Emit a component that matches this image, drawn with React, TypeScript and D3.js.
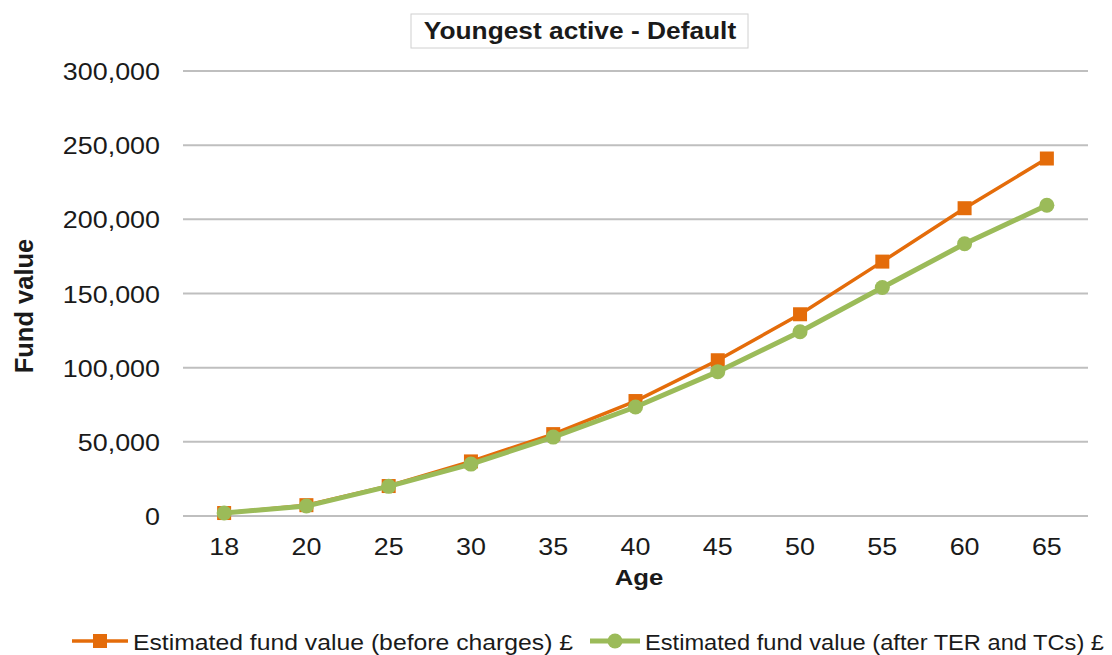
import React from "react";
import * as d3 from "d3";

const ages = ["18", "20", "25", "30", "35", "40", "45", "50", "55", "60", "65"];
const beforeCharges = [2000, 7300, 20200, 36800, 55200, 77500, 105000, 136000, 171500, 207500, 241000];
const afterCharges = [2000, 6700, 20000, 35000, 53200, 73500, 97300, 124200, 154000, 183500, 209500];
const yTicks = [0, 50000, 100000, 150000, 200000, 250000, 300000];
const legendLabels = [
  "Estimated fund value (before charges) £",
  "Estimated fund value (after TER and TCs) £",
];

const W = 1112;
const H = 655;
const left = 183;
const right = 1088;
const top = 71;
const bottom = 516;
const SX = 1.12;

const ORANGE = "#E46C0A";
const GREEN = "#9BBB59";
const FONT = "'Liberation Sans', Arial, sans-serif";

function T(props: {
  x: number;
  y: number;
  size: number;
  anchor?: "start" | "middle" | "end";
  bold?: boolean;
  children: React.ReactNode;
}) {
  return (
    <text
      transform={`translate(${props.x},${props.y}) scale(${SX},1)`}
      textAnchor={props.anchor || "start"}
      fontSize={props.size}
      fontWeight={props.bold ? "bold" : "normal"}
      fill="#1a1a1a"
    >
      {props.children}
    </text>
  );
}

export default function App() {
  const x = d3.scaleBand<string>().domain(ages).range([left, right]);
  const y = d3.scaleLinear().domain([0, 300000]).range([bottom, top]);
  const cx = (a: string) => (x(a) as number) + x.bandwidth() / 2;
  const fmt = d3.format(",");
  const line = d3
    .line<number>()
    .x((_, i) => cx(ages[i]))
    .y((d) => y(d));

  return (
    <svg width={W} height={H} style={{ position: "absolute", left: 0, top: 0 }} fontFamily={FONT}>
      <rect x={0} y={0} width={W} height={H} fill="#fff" />
      {yTicks.map((t) => (
        <g key={t}>
          <line x1={left} x2={right} y1={y(t)} y2={y(t)} stroke="#BFBFBF" strokeWidth={2} />
          <T x={160} y={y(t) + 9} size={24} anchor="end">
            {fmt(t)}
          </T>
        </g>
      ))}
      {ages.map((a) => (
        <T key={a} x={cx(a)} y={555} size={24} anchor="middle">
          {a}
        </T>
      ))}
      <T x={639} y={585} size={23} anchor="middle" bold>
        Age
      </T>
      <text
        transform={`translate(33, 306) rotate(-90)`}
        textAnchor="middle"
        fontSize={25.5}
        fontWeight="bold"
        fill="#1a1a1a"
      >
        Fund value
      </text>
      <rect x={411} y={14} width={337} height={34} fill="#fff" stroke="#D0D0D0" strokeWidth={1} />
      <T x={580} y={38.5} size={23.5} anchor="middle" bold>
        Youngest active - Default
      </T>

      <path d={line(beforeCharges) || ""} fill="none" stroke={ORANGE} strokeWidth={3.5} />
      {beforeCharges.map((v, i) => (
        <rect key={i} x={cx(ages[i]) - 7} y={y(v) - 7} width={14} height={14} fill={ORANGE} />
      ))}
      <path d={line(afterCharges) || ""} fill="none" stroke={GREEN} strokeWidth={5} />
      {afterCharges.map((v, i) => (
        <circle key={i} cx={cx(ages[i])} cy={y(v)} r={7.5} fill={GREEN} />
      ))}

      <g>
        <line x1={72} x2={128} y1={641} y2={641} stroke={ORANGE} strokeWidth={3.5} />
        <rect x={93} y={634} width={14} height={14} fill={ORANGE} />
        <text x={133} y={650} fontSize={22} fill="#1a1a1a" textLength={440} lengthAdjust="spacingAndGlyphs">
          {legendLabels[0]}
        </text>
        <line x1={590} x2={640} y1={641} y2={641} stroke={GREEN} strokeWidth={5} />
        <circle cx={615} cy={641} r={7.5} fill={GREEN} />
        <text x={645} y={650} fontSize={22} fill="#1a1a1a" textLength={459} lengthAdjust="spacingAndGlyphs">
          {legendLabels[1]}
        </text>
      </g>
    </svg>
  );
}
